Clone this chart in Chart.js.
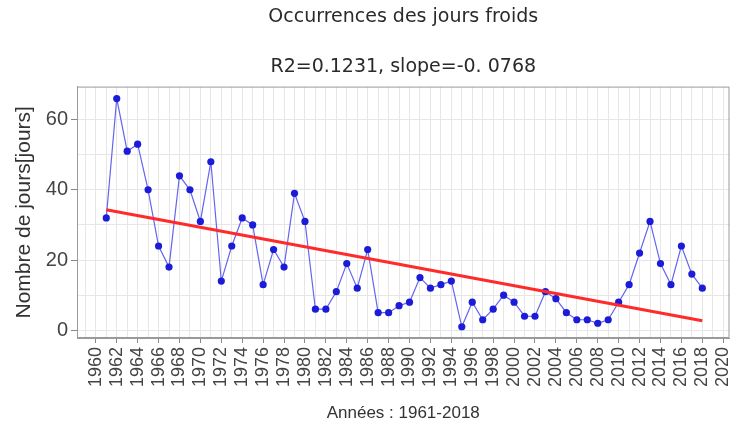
<!DOCTYPE html>
<html>
<head>
<meta charset="utf-8">
<script src="https://cdn.jsdelivr.net/npm/chart.js@4.4.1/dist/chart.umd.min.js"></script>
<style>
  html, body { margin: 0; padding: 0; background: #fff; }
  #wrap { width: 749px; height: 437px; }
</style>
</head>
<body>
<div id="wrap"><canvas id="coldChart" width="749" height="437"></canvas></div>
<script>
// Années 1961-2018
const years = [1961, 1962, 1963, 1964, 1965, 1966, 1967, 1968, 1969, 1970,
    1971, 1972, 1973, 1974, 1975, 1976, 1977, 1978, 1979, 1980,
    1981, 1982, 1983, 1984, 1985, 1986, 1987, 1988, 1989, 1990,
    1991, 1992, 1993, 1994, 1995, 1996, 1997, 1998, 1999, 2000,
    2001, 2002, 2003, 2004, 2005, 2006, 2007, 2008, 2009, 2010,
    2011, 2012, 2013, 2014, 2015, 2016, 2017, 2018];
// Nombre de jours froids
const coldDays = [32, 66, 51, 53, 40, 24, 18, 44, 40, 31,
    48, 14, 24, 32, 30, 13, 23, 18, 39, 31,
    6, 6, 11, 19, 12, 23, 5, 5, 7, 8,
    15, 12, 13, 14, 1, 8, 3, 6, 10, 8,
    4, 4, 11, 9, 5, 3, 3, 2, 3, 8,
    13, 22, 31, 19, 13, 24, 16, 12];
// droite de tendance (extrémités)
const trendYears = [1961, 2018];
const trendValues = [34.3, 2.7];

const titleText = 'Occurrences des jours froids';
const subtitleText = 'R2=0.1231, slope=-0. 0768';

document.addEventListener("DOMContentLoaded", function () {
    const ctx = document.getElementById('coldChart').getContext('2d');

    // cadre autour de la zone du graphique
    const frame = {
        id: 'frame',
        afterDraw(chart) {
            const a = chart.chartArea;
            const c = chart.ctx;
            c.save();
            c.strokeStyle = '#9a9a9a';
            c.lineWidth = 1;
            c.strokeRect(a.left + 0.5, a.top + 0.5, a.right - a.left - 1, a.bottom - a.top - 1);
            c.restore();
        }
    };

    new Chart(ctx, {
        type: 'line',
        data: {
            datasets: [{
                label: 'tendance',
                data: trendYears.map((x, i) => ({ x: x, y: trendValues[i] })),
                borderColor: '#ff2a2a',
                borderWidth: 3,
                pointRadius: 0,
                fill: false
            }, {
                label: 'jours froids',
                data: years.map((x, i) => ({ x: x, y: coldDays[i] })),
                borderColor: '#6464f0',
                borderWidth: 1.2,
                pointRadius: 3.6,
                pointBackgroundColor: '#1c1cd8',
                pointBorderColor: '#1c1cd8',
                pointBorderWidth: 0,
                tension: 0,
                fill: false
            }]
        },
        options: {
            responsive: false,
            animation: false,
            layout: { padding: { left: 0, right: 7, top: 0, bottom: 0 } },
            plugins: {
                legend: { display: false },
                tooltip: { enabled: false },
                title: {
                    display: true,
                    text: titleText,
                    fullSize: false,
                    color: '#2a2a2a',
                    font: { family: 'DejaVu Sans', size: 19, weight: 'normal', lineHeight: 1.2 },
                    padding: { top: 6, bottom: 27 }
                },
                subtitle: {
                    display: true,
                    text: subtitleText,
                    fullSize: false,
                    color: '#2a2a2a',
                    font: { family: 'DejaVu Sans', size: 19, weight: 'normal', lineHeight: 1.2 },
                    padding: { top: 0, bottom: 8 }
                }
            },
            scales: {
                x: {
                    type: 'linear',
                    min: 1958.2,
                    max: 2020.6,
                    afterFit(scale) { scale.height = 99; },
                    ticks: {
                        stepSize: 1,
                        includeBounds: false,
                        autoSkip: false,
                        minRotation: 90,
                        maxRotation: 90,
                        padding: 4,
                        color: '#444',
                        font: { family: 'Liberation Sans', size: 18 },
                        callback: (v) => (v % 2 === 0 ? String(v) : '')
                    },
                    grid: {
                        color: '#e6e6e6',
                        tickLength: 5,
                        tickColor: (c) => (c.tick && c.tick.value % 2 === 0 ? '#888' : 'rgba(0,0,0,0)')
                    },
                    border: { display: true, color: '#9a9a9a' },
                    title: {
                        display: true,
                        text: 'Années : 1961-2018',
                        color: '#333',
                        font: { family: 'Liberation Sans', size: 17 },
                        padding: { top: 0, bottom: 13 }
                    }
                },
                y: {
                    type: 'linear',
                    min: -2.2,
                    max: 69.4,
                    afterFit(scale) { scale.width = 77; },
                    ticks: {
                        stepSize: 10,
                        includeBounds: false,
                        padding: 3,
                        color: '#444',
                        font: { family: 'Liberation Sans', size: 20 },
                        callback: (v) => (v % 20 === 0 ? String(v) : '')
                    },
                    grid: {
                        color: '#e6e6e6',
                        tickLength: 6,
                        tickColor: (c) => (c.tick && c.tick.value % 20 === 0 ? '#888' : 'rgba(0,0,0,0)')
                    },
                    border: { display: true, color: '#9a9a9a' },
                    title: {
                        display: true,
                        text: 'Nombre de jours[jours]',
                        color: '#333',
                        font: { family: 'Liberation Sans', size: 21 },
                        padding: { top: 12, bottom: 0 }
                    }
                }
            }
        },
        plugins: [frame]
    });
});
</script>
</body>
</html>
